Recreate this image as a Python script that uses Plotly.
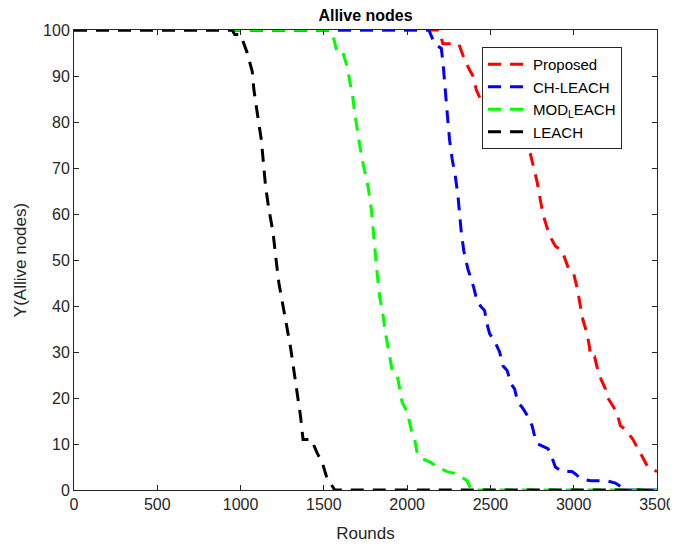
import plotly.graph_objects as go

# ---- data ----
proposed_x = [0, 2190, 2215, 2310, 2340, 2365, 2395, 2415, 2440, 2500, 2550, 2600, 2650, 2700, 2740, 2760, 2780, 2800, 2815, 2840, 2860, 2890, 2930, 2950, 2970, 3000, 3020, 3040, 3055, 3080, 3095, 3100, 3125, 3145, 3165, 3190, 3205, 3240, 3265, 3280, 3315, 3355, 3385, 3420, 3445, 3475, 3500]
proposed_y = [100, 100, 97, 97, 94, 92, 90, 87, 85, 83, 81, 79, 77, 75, 73, 70, 67, 63, 60, 57, 55, 53, 52, 50, 48, 47, 44, 40, 37, 34, 31, 29, 29, 26, 24, 22, 20, 18, 16, 14, 13, 11, 9, 7, 5, 4.5, 4]

chleach_x = [0, 2130, 2165, 2205, 2215, 2225, 2235, 2245, 2255, 2270, 2290, 2305, 2315, 2325, 2340, 2365, 2400, 2420, 2440, 2465, 2480, 2495, 2530, 2555, 2575, 2600, 2625, 2645, 2665, 2690, 2725, 2750, 2770, 2785, 2845, 2860, 2890, 2930, 2990, 3010, 3040, 3100, 3200, 3250, 3285, 3300, 3500]
chleach_y = [100, 100, 97, 96, 93, 88, 84, 80, 76, 72, 68, 64, 60, 56, 52, 48, 44, 41, 40, 39, 36, 34, 32, 30, 27, 26, 23, 22, 19, 18, 16, 14, 11, 10, 9, 8, 5, 4, 4, 3.5, 2.5, 2, 2, 1.5, 0.7, 0, 0]

modleach_x = [0, 1535, 1560, 1580, 1615, 1640, 1660, 1675, 1685, 1700, 1715, 1735, 1765, 1785, 1795, 1805, 1820, 1835, 1855, 1870, 1890, 1910, 1940, 1955, 1970, 2000, 2025, 2045, 2060, 2080, 2140, 2180, 2240, 2300, 2360, 2385, 3500]
modleach_y = [100, 100, 98, 95, 95, 92, 88, 85, 82, 78, 75, 71, 66, 61, 57, 52, 47, 42, 38, 34, 30, 26, 25, 22, 19, 17, 13, 11, 8, 7, 6, 5, 4, 3.5, 2, 0, 0]

leach_x = [0, 950, 965, 1000, 1020, 1040, 1070, 1080, 1100, 1125, 1135, 1150, 1170, 1195, 1210, 1230, 1250, 1275, 1300, 1320, 1340, 1360, 1375, 1425, 1460, 1490, 1515, 1550, 1565, 3500]
leach_y = [100, 100, 99, 99, 97, 95, 91, 87, 82, 76, 72, 66, 61, 56, 51, 45, 41, 36, 31, 26, 21, 16, 11, 11, 8, 6, 3, 1, 0, 0]

series_names = ["Proposed", "CH-LEACH", "MOD<sub>L</sub>EACH", "LEACH"]
series_colors = ["#FF0000", "#0000FF", "#00FF00", "#000000"]

x_ticks = [0, 500, 1000, 1500, 2000, 2500, 3000, 3500]
y_ticks = [0, 10, 20, 30, 40, 50, 60, 70, 80, 90, 100]

FONT = "Liberation Sans, Arial, Helvetica, sans-serif"
AX = "#262626"

# page body has an 8px margin; figure is sized so that it fills the window
W, H = 670, 537
ML, MR, MT, MB = 66, 21, 22, 55

fig = go.Figure()
for (xs, ys), name, col in zip(
    [(proposed_x, proposed_y), (chleach_x, chleach_y), (modleach_x, modleach_y), (leach_x, leach_y)],
    series_names, series_colors):
    fig.add_trace(go.Scatter(x=xs, y=ys, mode="lines", name=name,
                             line=dict(color=col, width=3, dash="13px,9px")))

fig.update_layout(
    width=W, height=H,
    margin=dict(l=ML, r=MR, t=MT, b=MB, autoexpand=False),
    paper_bgcolor="white", plot_bgcolor="white",
    font=dict(family=FONT, size=16, color=AX),
    title=dict(text="<b>Allive nodes</b>", x=(ML + (W - MR)) / 2 / W, xanchor="center",
               y=1 - 7 / H, yanchor="middle", font=dict(size=16, color="black")),
    legend=dict(x=(482 - 74) / 583, y=(490 - 47) / 460, xanchor="left", yanchor="top",
                bgcolor="white", bordercolor=AX, borderwidth=1,
                font=dict(size=15, color="black"), tracegroupgap=0, itemwidth=40),
    showlegend=True,
)
fig.update_xaxes(range=[0, 3500], tickvals=x_ticks, ticks="inside", ticklen=5,
                 showline=True, linecolor=AX, linewidth=1, mirror="ticks",
                 showgrid=False, zeroline=False, tickcolor=AX, automargin=False,
                 title=dict(text="Rounds", font=dict(size=17), standoff=14))
fig.update_yaxes(range=[0, 100], tickvals=y_ticks, ticks="inside", ticklen=5,
                 showline=True, linecolor=AX, linewidth=1, mirror="ticks",
                 showgrid=False, zeroline=False, tickcolor=AX, automargin=False,
                 title=dict(text="Y(Allive nodes)", font=dict(size=17), standoff=12))

fig.write_html("out.html")
